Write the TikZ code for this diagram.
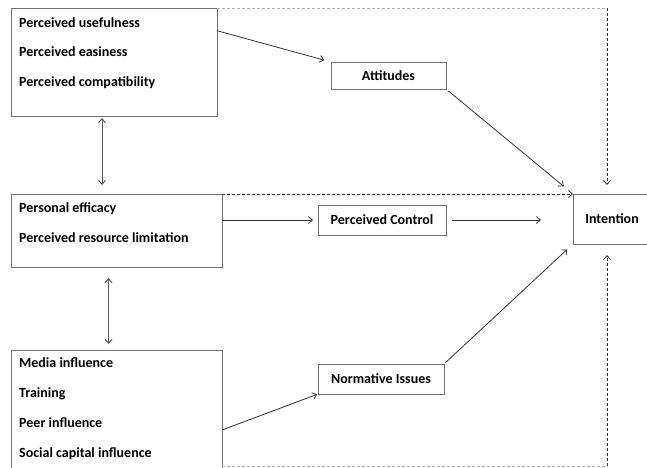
\documentclass[tikz,border=0pt]{standalone}
\usepackage{fontspec}
\setmainfont{Carlito}
\usetikzlibrary{arrows.meta, calc}
\tikzset{
  factor box/.style={
    draw=black!55,
    line width=1pt,
    inner sep=0pt,
    outer sep=0pt
  },
  construct box/.style={
    factor box,
    font=\bfseries\fontsize{14}{16}\selectfont
  },
  item label/.style={
    anchor=base west,
    inner sep=0pt,
    font=\bfseries\fontsize{14}{16}\selectfont
  },
  path arrow/.style={
    -{Straight Barb[length=4pt, width=7pt]},
    line width=0.8pt,
    color=black!80
  },
  both arrow/.style={
    {Straight Barb[length=4pt, width=7pt]}-{Straight Barb[length=4pt, width=7pt]},
    line width=1pt,
    color=black!65
  },
  cue line/.style={
    dashed,
    dash pattern=on 3pt off 2pt,
    line width=0.8pt,
    color=black!80
  },
  faint cue/.style={
    dash pattern=on 3pt off 2pt,
    line width=0.8pt,
    color=black!30
  }
}

\begin{document}
\begin{tikzpicture}[x=1pt, y=-1pt]
    \useasboundingbox (0,0) rectangle (647,467);
    \clip (0,0) rectangle (647,467);

    % the three groups of factors on the left
    \node[factor box, minimum width=206, minimum height=108] (perc) at (114,62) {};
    \node[factor box, minimum width=211, minimum height=73] (pers) at (116.5,230.5) {};
    \node[factor box, minimum width=211, minimum height=125] (soc) at (116.5,412.5) {};

    \node[item label] (useful) at (19,27) {Perceived usefulness};
    \node[item label] (easy) at (19,56) {Perceived easiness};
    \node[item label] (compat) at (19,86) {Perceived compatibility};

    \node[item label] (efficacy) at (19,212) {Personal efficacy};
    \node[item label] (resource) at (19,242) {Perceived resource limitation};

    \node[item label] (media) at (19,367) {Media influence};
    \node[item label] (training) at (19,397) {Training};
    \node[item label] (peer) at (19,427) {Peer influence};
    \node[item label] (capital) at (19,457) {Social capital influence};

    % middle constructs and the outcome
    \node[construct box, minimum width=115, minimum height=27] (att) at (388.5,75.5) {Attitudes};
    \node[construct box, minimum width=128, minimum height=30] (ctrl) at (382,220) {Perceived Control};
    \node[construct box, minimum width=126, minimum height=30] (norm) at (381,379) {Normative Issues};
    \node[construct box, minimum width=78, minimum height=50] (int) at (612,219) {Intention};

    % direct paths
    \draw[path arrow, shorten >=7pt] ($(perc.north east)!0.21!(perc.south east)$) -- (att.north west);
    \draw[path arrow, shorten <=3pt, shorten >=12pt] (att.south east) -- (int.north west);
    \draw[path arrow, shorten >=5pt] (pers.east |- ctrl.west) -- (ctrl.west);
    \draw[path arrow, shorten <=6pt, shorten >=32pt] (ctrl.east) -- (ctrl.east -| int.west);
    \draw[path arrow, shorten <=2pt, shorten >=8pt] (norm.north east) -- (int.south west);
    \draw[path arrow, shorten >=1pt] ($(soc.north east)!0.64!(soc.south east)$) -- (norm.south west);

    % links between the groups
    \draw[both arrow] ($(perc.south)+(-12,2)$) -- ($(pers.north)+(-14.5,-9)$);
    \draw[both arrow] ($(pers.south)+(-8,11)$) -- ($(soc.north)+(-8,-6)$);

    % dashed paths straight to intention
    \coordinate (top turn) at (607,8);
    \coordinate (bottom turn) at (607,466);
    \draw[cue line, -{Straight Barb[length=4pt, width=7pt]}] (pers.north east) -- (int.north west);
    \draw[faint cue] (perc.north east) -- (top turn);
    \draw[cue line, -{Straight Barb[length=4pt, width=7pt]}, shorten >=9pt] (top turn) -- (top turn |- int.north);
    \draw[faint cue] (soc.east |- bottom turn) -- (bottom turn);
    \draw[cue line, -{Straight Barb[length=4pt, width=7pt]}, shorten >=11pt] (bottom turn) -- (bottom turn |- int.south);

  \end{tikzpicture}
\end{document}
